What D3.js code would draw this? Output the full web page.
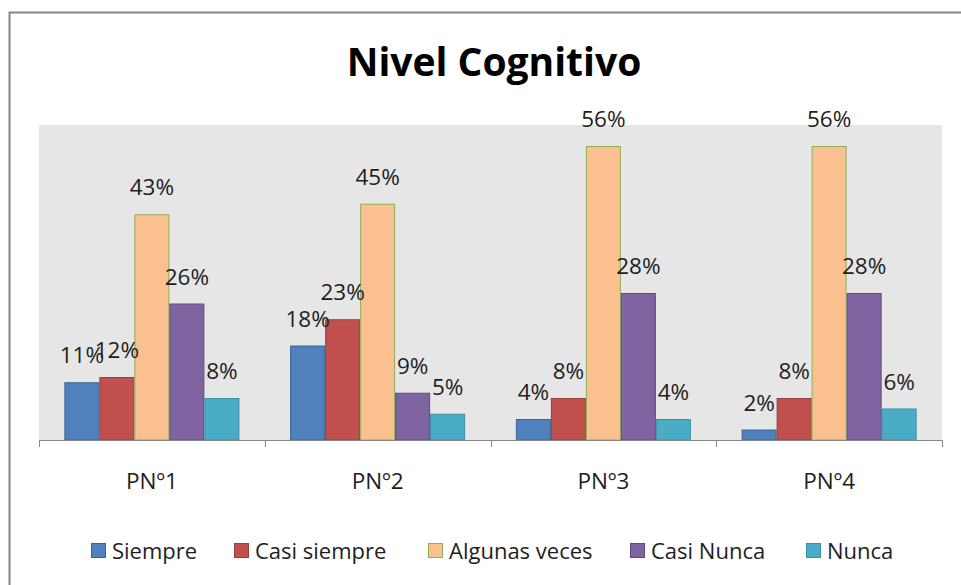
<!DOCTYPE html>
<html>
<head>
<meta charset="utf-8">
<script src="https://cdn.jsdelivr.net/npm/d3@7"></script>
<style>
  body { margin: 0; background: #fff; }
  svg { display: block; font-family: "Open Sans", Lato, sans-serif; }
</style>
</head>
<body>
<div id="chart"></div>
<script>
// data
var categories = ["PNº1", "PNº2", "PNº3", "PNº4"]
var seriesNames = ["Siempre", "Casi siempre", "Algunas veces", "Casi Nunca", "Nunca"]
var siempre = [11, 18, 4, 2]
var casiSiempre = [12, 23, 8, 8]
var algunasVeces = [43, 45, 56, 56]
var casiNunca = [26, 9, 28, 28]
var nunca = [8, 5, 4, 6]

var fills = ["#4f81bd", "#c0504d", "#fac090", "#8064a2", "#4bacc6"]
var strokes = ["#3a6597", "#9b3d3a", "#8fae55", "#5f4a7c", "#3a8ea6"]

var width = 961, height = 585
var plot = { left: 39, right: 942, top: 125, bottom: 440 }

var values = [siempre, casiSiempre, algunasVeces, casiNunca, nunca]

var svg = d3.select("#chart").append("svg")
    .attr("width", width)
    .attr("height", height)

// outer frame (only top and left visible in the picture)
svg.append("rect")
    .attr("x", 9.5).attr("y", 12.5)
    .attr("width", 980).attr("height", 600)
    .attr("fill", "#fff")
    .attr("stroke", "#868686")
    .attr("stroke-width", 2)

svg.append("text")
    .attr("x", 494)
    .attr("y", 76)
    .attr("text-anchor", "middle")
    .style("font-size", "39px")
    .style("font-weight", "bold")
    .attr("fill", "#000")
    .text("Nivel Cognitivo")

// plot background
svg.append("rect")
    .attr("x", plot.left).attr("y", plot.top)
    .attr("width", plot.right - plot.left)
    .attr("height", plot.bottom - plot.top)
    .attr("fill", "#e6e6e6")

var x0 = d3.scaleBand()
    .domain(categories)
    .range([plot.left, plot.right])
    .paddingInner(0)

var x1 = d3.scaleBand()
    .domain(seriesNames)
    .range([0, x0.bandwidth()])
    .paddingInner(0)
    .paddingOuter(0.725)

var y = d3.scaleLinear()
    .domain([0, 60])
    .range([plot.bottom, plot.top])

var groups = svg.selectAll("g.cat")
    .data(categories)
    .enter().append("g")
    .attr("class", "cat")
    .attr("transform", function(d) { return "translate(" + x0(d) + ",0)" })

groups.selectAll("rect")
    .data(function(d, i) {
      return seriesNames.map(function(s, j) { return { s: s, j: j, v: values[j][i] } })
    })
    .enter().append("rect")
    .attr("x", function(d) { return x1(d.s) + 0.5 })
    .attr("y", function(d) { return y(d.v) + 0.5 })
    .attr("width", x1.bandwidth() - 1)
    .attr("height", function(d) { return plot.bottom - y(d.v) - 0.5 })
    .attr("fill", function(d) { return fills[d.j] })
    .attr("stroke", function(d) { return strokes[d.j] })
    .attr("stroke-width", 1)

groups.selectAll("text.lbl")
    .data(function(d, i) {
      return seriesNames.map(function(s, j) { return { s: s, j: j, v: values[j][i] } })
    })
    .enter().append("text")
    .attr("class", "lbl")
    .attr("x", function(d) { return x1(d.s) + x1.bandwidth() / 2 })
    .attr("y", function(d) { return y(d.v) - 19 })
    .attr("text-anchor", "middle")
    .style("font-size", "22.5px")
    .attr("fill", "#1e1e1e")
    .text(function(d) { return d.v + "%" })

// category axis
var axis = svg.append("g")
    .attr("transform", "translate(0," + plot.bottom + ")")
    .call(d3.axisBottom(x0).tickSize(0).tickPadding(33))
axis.select(".domain").remove()
axis.selectAll("text")
    .style("font-family", "'Open Sans', sans-serif")
    .style("font-size", "22.5px")
    .attr("fill", "#1e1e1e")

svg.append("line")
    .attr("x1", plot.left).attr("x2", plot.right)
    .attr("y1", plot.bottom + 0.5).attr("y2", plot.bottom + 0.5)
    .attr("stroke", "#888")

var tickXs = categories.map(function(c) { return x0(c) }).concat([plot.right])
svg.selectAll("line.tick")
    .data(tickXs)
    .enter().append("line")
    .attr("class", "tick")
    .attr("x1", function(d) { return Math.round(d) + 0.5 })
    .attr("x2", function(d) { return Math.round(d) + 0.5 })
    .attr("y1", plot.bottom)
    .attr("y2", plot.bottom + 7)
    .attr("stroke", "#888")

// legend
var legendX = [91, 234, 428, 630, 806]
var legend = svg.selectAll("g.legend")
    .data(seriesNames)
    .enter().append("g")
    .attr("class", "legend")
    .attr("transform", function(d, i) { return "translate(" + legendX[i] + ",543)" })

legend.append("rect")
    .attr("x", 0.5).attr("y", 0.5)
    .attr("width", 14).attr("height", 14)
    .attr("fill", function(d, i) { return fills[i] })
    .attr("stroke", function(d, i) { return strokes[i] })

legend.append("text")
    .attr("x", 21)
    .attr("y", 15.5)
    .style("font-size", "22px")
    .attr("fill", "#1e1e1e")
    .text(function(d) { return d })
</script>
</body>
</html>
